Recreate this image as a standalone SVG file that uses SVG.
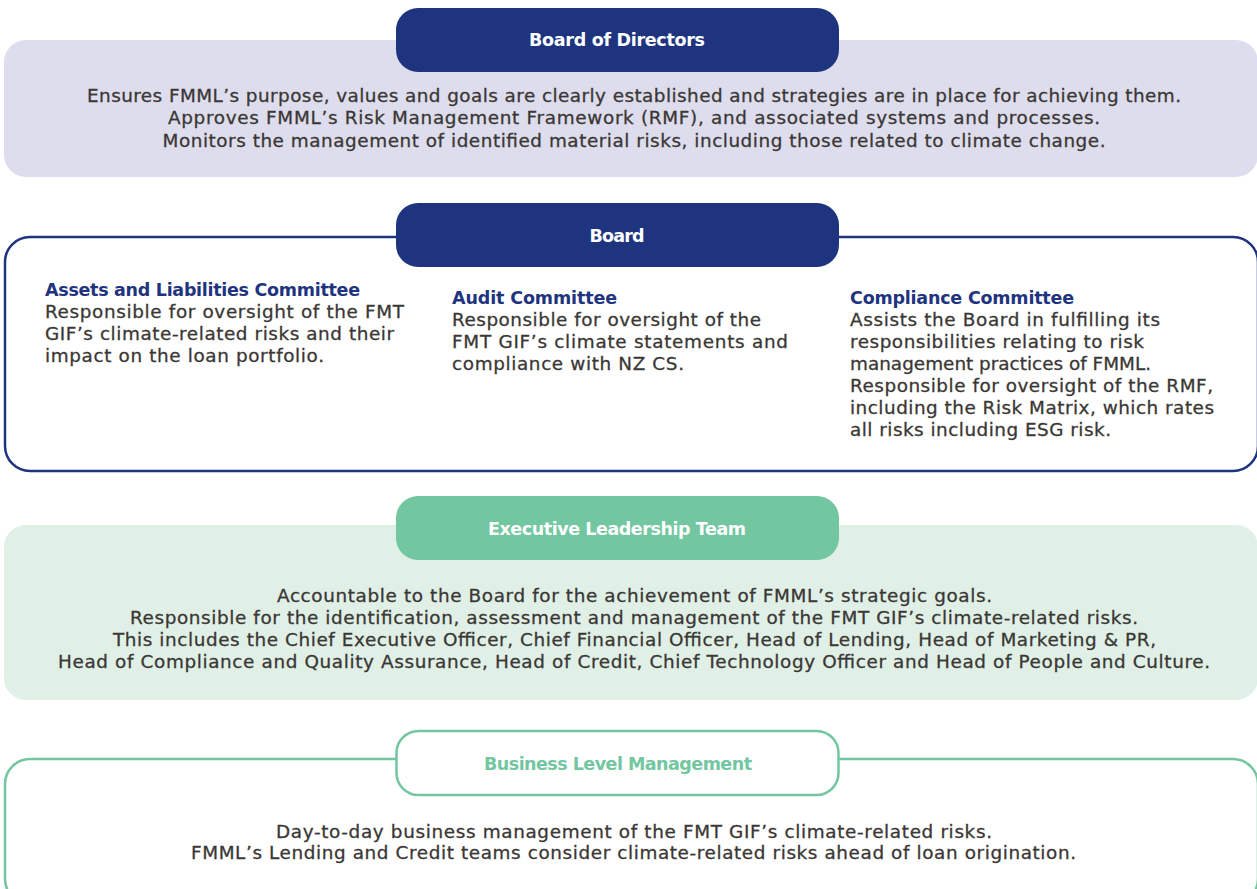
<svg xmlns="http://www.w3.org/2000/svg" width="1257" height="889" viewBox="0 0 1257 889">
<style>
.body{font-family:"DejaVu Sans","Liberation Sans",sans-serif;font-size:18.4px;fill:#3a3735;stroke:#3a3735;stroke-width:0.3px;}
.c{text-anchor:middle;}
.hd{font-family:"DejaVu Sans","Liberation Sans",sans-serif;font-size:17.5px;font-weight:bold;fill:#1f347f;}
.pill{font-family:"DejaVu Sans","Liberation Sans",sans-serif;font-size:17.5px;font-weight:bold;text-anchor:middle;}
</style>
<rect width="1257" height="889" fill="#ffffff"/>

<g id="board-of-directors">
  <rect x="4" y="40" width="1254" height="137" rx="22" fill="#dedded"/>
  <rect x="396" y="8" width="443" height="64" rx="22" fill="#1f347f"/>
  <text class="pill" x="617" y="46" fill="#ffffff" textLength="176">Board of Directors</text>
  <text class="body c" x="634" y="102" textLength="1094">Ensures FMML’s purpose, values and goals are clearly established and strategies are in place for achieving them.</text>
  <text class="body c" x="634" y="124" textLength="932">Approves FMML’s Risk Management Framework (RMF), and associated systems and processes.</text>
  <text class="body c" x="634" y="146.5" textLength="943">Monitors the management of identified material risks, including those related to climate change.</text>
</g>

<g id="board">
  <rect x="5" y="237" width="1253" height="234" rx="25" fill="#ffffff" stroke="#1f347f" stroke-width="2.5"/>
  <rect x="396" y="203" width="443" height="64" rx="22" fill="#1f347f"/>
  <text class="pill" x="617" y="242" fill="#ffffff" textLength="55">Board</text>
</g>

<g id="assets-liabilities-committee">
  <text class="hd" x="45" y="296" textLength="315">Assets and Liabilities Committee</text>
  <text class="body" x="45" y="318" textLength="359">Responsible for oversight of the FMT</text>
  <text class="body" x="45" y="340" textLength="349">GIF’s climate-related risks and their</text>
  <text class="body" x="45" y="362" textLength="279">impact on the loan portfolio.</text>
</g>

<g id="audit-committee">
  <text class="hd" x="452" y="304" textLength="165">Audit Committee</text>
  <text class="body" x="452" y="326" textLength="309">Responsible for oversight of the</text>
  <text class="body" x="452" y="348" textLength="336">FMT GIF’s climate statements and</text>
  <text class="body" x="452" y="369.5" textLength="232">compliance with NZ CS.</text>
</g>

<g id="compliance-committee">
  <text class="hd" x="850" y="303.5" textLength="224">Compliance Committee</text>
  <text class="body" x="850" y="325.5" textLength="310">Assists the Board in fulfilling its</text>
  <text class="body" x="850" y="347.5" textLength="294">responsibilities relating to risk</text>
  <text class="body" x="850" y="369.5" textLength="301">management practices of FMML.</text>
  <text class="body" x="850" y="391.5" textLength="363">Responsible for oversight of the RMF,</text>
  <text class="body" x="850" y="413.5" textLength="364">including the Risk Matrix, which rates</text>
  <text class="body" x="850" y="435.5" textLength="261">all risks including ESG risk.</text>
</g>

<g id="executive-leadership-team">
  <rect x="4" y="525" width="1254" height="175" rx="22" fill="#e0f0e6"/>
  <rect x="396" y="496" width="443" height="64" rx="22" fill="#72c6a0"/>
  <text class="pill" x="617" y="535" fill="#ffffff" textLength="258">Executive Leadership Team</text>
  <text class="body c" x="634.5" y="601.5" textLength="715">Accountable to the Board for the achievement of FMML’s strategic goals.</text>
  <text class="body c" x="634" y="623.5" textLength="1008">Responsible for the identification, assessment and management of the FMT GIF’s climate-related risks.</text>
  <text class="body c" x="634.5" y="645.5" textLength="1043">This includes the Chief Executive Officer, Chief Financial Officer, Head of Lending, Head of Marketing &amp; PR,</text>
  <text class="body c" x="634" y="667.5" textLength="1152">Head of Compliance and Quality Assurance, Head of Credit, Chief Technology Officer and Head of People and Culture.</text>
</g>

<g id="business-level-management">
  <rect x="5" y="759" width="1253" height="145" rx="25" fill="#ffffff" stroke="#72c6a0" stroke-width="2.5"/>
  <rect x="396.5" y="731" width="442" height="64" rx="22" fill="#ffffff" stroke="#72c6a0" stroke-width="2.5"/>
  <text class="pill" x="618" y="770" fill="#72c6a0" textLength="268">Business Level Management</text>
  <text class="body c" x="634" y="837.5" textLength="716">Day-to-day business management of the FMT GIF’s climate-related risks.</text>
  <text class="body c" x="633.5" y="859" textLength="885">FMML’s Lending and Credit teams consider climate-related risks ahead of loan origination.</text>
</g>

<g id="connectors"></g>
</svg>
